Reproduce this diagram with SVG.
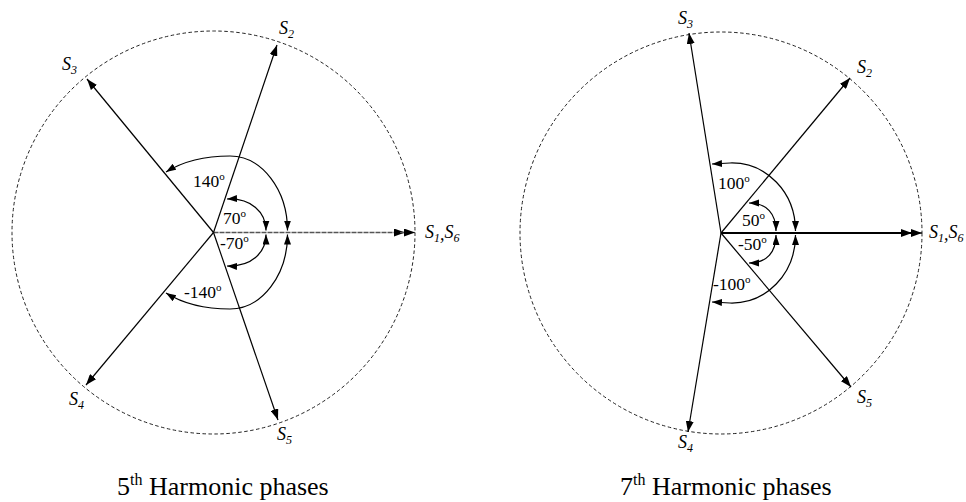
<svg xmlns="http://www.w3.org/2000/svg" width="966" height="502" viewBox="0 0 966 502">
<style>
  .circ{fill:none;stroke:#222;stroke-width:1;stroke-dasharray:3.5 2.5}
  .vec{stroke:#000;stroke-width:1.2;fill:none;marker-end:url(#ah)}
  .arc{stroke:#000;stroke-width:1.2;fill:none;marker-start:url(#ahs);marker-end:url(#ahs)}
  .s{font-family:"Liberation Serif","Times New Roman",serif;font-style:italic;font-size:18px;fill:#000}
  .sub{font-size:12px}
  .deg{font-family:"Liberation Serif","Times New Roman",serif;font-size:17.5px;fill:#000}
  .sup{font-size:11px}
  .title{font-family:"Liberation Serif","Times New Roman",serif;font-size:26px;fill:#000}
  .tsup{font-size:16px}
</style>
<defs>
  <marker id="ah" markerUnits="userSpaceOnUse" markerWidth="12" markerHeight="8" refX="11" refY="4" orient="auto">
    <path d="M0,0 L11,4 L0,8 z" fill="#000"/>
  </marker>
  <marker id="ahs" markerUnits="userSpaceOnUse" markerWidth="11" markerHeight="8" refX="10" refY="3.5" orient="auto-start-reverse">
    <path d="M0,0 L10,3.5 L0,7 z" fill="#000"/>
  </marker>
</defs>

<g id="left-diagram">
  <circle class="circ" cx="213.5" cy="232.5" r="201.5"/>
  <g id="left-connectors">
    <line x1="213.5" y1="232.5" x2="405" y2="232.5" stroke="#555" stroke-width="1.6" stroke-dasharray="5 1" marker-end="url(#ah)"/>
    <line x1="400" y1="232.5" x2="415" y2="232.5" stroke="#555" stroke-width="1.2" marker-end="url(#ah)"/>
    <line class="vec" x1="213.5" y1="232.5" x2="277" y2="45"/>
    <line class="vec" x1="213.5" y1="232.5" x2="87" y2="79"/>
    <line class="vec" x1="213.5" y1="232.5" x2="86" y2="385"/>
    <line class="vec" x1="213.5" y1="232.5" x2="278" y2="420"/>
    <path class="arc" d="M266,230.5 C266,212 251,198 227,199"/>
    <path class="arc" d="M266,234.5 C266,253 251,267 227,266"/>
    <path class="arc" d="M287.5,230.5 C287.5,190 262,156 230,156 C202,156 182,162 166,172"/>
    <path class="arc" d="M287.5,234.5 C287.5,275 262,309 230,309 C202,309 182,303 166,293"/>
  </g>
  <g id="left-labels">
    <text class="s" x="279" y="34">S<tspan class="sub" dy="4">2</tspan></text>
    <text class="s" x="62" y="70">S<tspan class="sub" dy="4">3</tspan></text>
    <text class="s" x="69" y="405">S<tspan class="sub" dy="4">4</tspan></text>
    <text class="s" x="277" y="440">S<tspan class="sub" dy="4">5</tspan></text>
    <text class="s" x="425" y="238">S<tspan class="sub" dy="4">1</tspan><tspan dy="-2">,</tspan><tspan dy="-2">S</tspan><tspan class="sub" dy="4">6</tspan></text>
    <text class="deg" x="193" y="187">140<tspan class="sup" dy="-7">o</tspan></text>
    <text class="deg" x="223" y="224">70<tspan class="sup" dy="-7">o</tspan></text>
    <text class="deg" x="220" y="249">-70<tspan class="sup" dy="-7">o</tspan></text>
    <text class="deg" x="184" y="298">-140<tspan class="sup" dy="-7">o</tspan></text>
  </g>
  <text class="title" x="117" y="495">5<tspan class="tsup" dy="-10">th</tspan><tspan dy="10"> Harmonic phases</tspan></text>
</g>

<g id="right-diagram">
  <circle class="circ" cx="721" cy="233" r="201"/>
  <g id="right-connectors">
    <line x1="721" y1="233" x2="912" y2="233" stroke="#000" stroke-width="2" marker-end="url(#ah)"/>
    <line x1="908" y1="233" x2="922" y2="233" stroke="#000" stroke-width="1.2" marker-end="url(#ah)"/>
    <line class="vec" x1="721" y1="233" x2="689" y2="33"/>
    <line class="vec" x1="721" y1="233" x2="850" y2="78"/>
    <line class="vec" x1="721" y1="233" x2="688" y2="432"/>
    <line class="vec" x1="721" y1="233" x2="851" y2="387"/>
    <path class="arc" d="M776,231 C776,214 767,203 749,203"/>
    <path class="arc" d="M776,235 C776,252 767,263 749,263"/>
    <path class="arc" d="M795.5,231 C795.5,192 766,162 730,163 L712,164"/>
    <path class="arc" d="M795.5,235 C795.5,274 766,304 730,303 L712,302"/>
  </g>
  <g id="right-labels">
    <text class="s" x="678" y="24">S<tspan class="sub" dy="4">3</tspan></text>
    <text class="s" x="857" y="73">S<tspan class="sub" dy="4">2</tspan></text>
    <text class="s" x="857" y="403">S<tspan class="sub" dy="4">5</tspan></text>
    <text class="s" x="678" y="448">S<tspan class="sub" dy="4">4</tspan></text>
    <text class="s" x="929" y="238">S<tspan class="sub" dy="4">1</tspan><tspan dy="-2">,</tspan><tspan dy="-2">S</tspan><tspan class="sub" dy="4">6</tspan></text>
    <text class="deg" x="718" y="189">100<tspan class="sup" dy="-7">o</tspan></text>
    <text class="deg" x="742" y="226">50<tspan class="sup" dy="-7">o</tspan></text>
    <text class="deg" x="738" y="250">-50<tspan class="sup" dy="-7">o</tspan></text>
    <text class="deg" x="713" y="290">-100<tspan class="sup" dy="-7">o</tspan></text>
  </g>
  <text class="title" x="620" y="495">7<tspan class="tsup" dy="-10">th</tspan><tspan dy="10"> Harmonic phases</tspan></text>
</g>
</svg>
